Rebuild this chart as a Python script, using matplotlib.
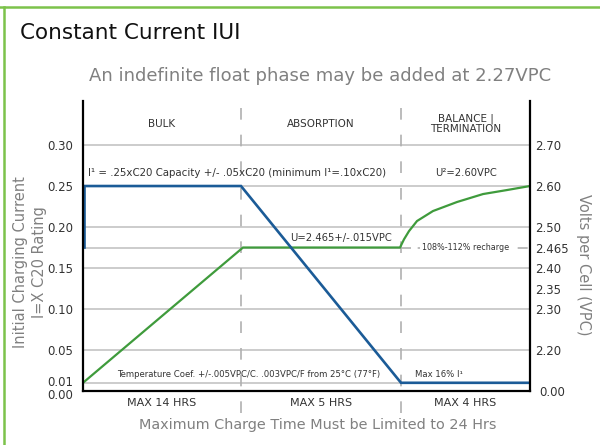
import matplotlib
matplotlib.use("Agg")
import matplotlib.pyplot as plt
from matplotlib.lines import Line2D
import matplotlib.transforms as mtransforms

# ---- data ----
phase_edges = [0, 158, 318, 447]          # chart position units (bulk | absorption | termination)
phase_names = ["BULK", "ABSORPTION", "BALANCE |\nTERMINATION"]
phase_limits = ["MAX 14 HRS", "MAX 5 HRS", "MAX 4 HRS"]

current_x = [1.5, 1.5, 158, 318, 447]
current_y = [0.175, 0.25, 0.25, 0.01, 0.01]

voltage_x = [0, 160, 317, 321, 326, 334, 350, 374, 400, 424, 447]
voltage_y = [0.01, 0.175, 0.175, 0.185, 0.195, 0.2073, 0.2195, 0.2305, 0.2402, 0.2451, 0.25]

left_ticks = [0.30, 0.25, 0.20, 0.15, 0.10, 0.05, 0.01, 0.00]
left_labels = ["0.30", "0.25", "0.20", "0.15", "0.10", "0.05", "0.01", "0.00"]
grid_levels = [0.30, 0.25, 0.20, 0.15, 0.10, 0.05, 0.01]
recharge_level = 0.175

right_ticks = [0.30, 0.25, 0.20, 0.175, 0.15, 0.125, 0.10, 0.05, 0.0]
right_labels = ["2.70", "2.60", "2.50", "2.465", "2.40", "2.35", "2.30", "2.20", "0.00"]

BLUE = "#1b5b97"
GREEN = "#3f9b3c"
GRID = "#c4c4c4"
DASH = "#b0b0b0"
TXT = "#333333"
GREY = "#808080"

fig = plt.figure(figsize=(6.0, 4.45), dpi=100)
ax = fig.add_axes([83/600, 1-391/445, 447/600, 290/445])
ax.set_xlim(phase_edges[0], phase_edges[-1])
ax.set_ylim(0, 0.3537)

# horizontal grid
for g in grid_levels:
    ax.axhline(g, color=GRID, lw=1.2, zorder=1)
ax.plot([phase_edges[0], phase_edges[2]], [recharge_level]*2, color=GRID, lw=1.2, zorder=1)
ax.plot([phase_edges[2], phase_edges[3]], [recharge_level]*2, color=DASH, lw=1.2,
        ls=(0, (6, 4)), zorder=1)

# dashed phase separators extending beyond axes
for xe in phase_edges[1:3]:
    ax.plot([xe, xe], [-0.027, 0.361], color=DASH, lw=1.2, ls=(0, (7, 9)),
            clip_on=False, zorder=1)

# lines
ax.plot(voltage_x, voltage_y, color=GREEN, lw=1.6, zorder=3, solid_joinstyle="miter")
ax.plot(current_x, current_y, color=BLUE, lw=1.9, zorder=4, solid_joinstyle="miter")

# spines
ax.spines["top"].set_visible(False)
for s in ["left", "right", "bottom"]:
    ax.spines[s].set_linewidth(1.6)
    ax.spines[s].set_color("black")
    ax.spines[s].set_zorder(5)

ax.set_xticks([])
ax.set_yticks(left_ticks)
ax.set_yticklabels(left_labels)
ax.tick_params(axis="y", length=0, pad=7, labelsize=8.5, labelcolor=TXT)
# nudge the crowded 0.01 / 0.00 labels apart
lbls = ax.get_yticklabels()
lbls[-1].set_transform(lbls[-1].get_transform() +
                       mtransforms.ScaledTranslation(0, -3/100, fig.dpi_scale_trans))
lbls[-2].set_transform(lbls[-2].get_transform() +
                       mtransforms.ScaledTranslation(0, 2/100, fig.dpi_scale_trans))

ax2 = ax.twinx()
ax2.set_ylim(ax.get_ylim())
ax2.set_yticks(right_ticks)
ax2.set_yticklabels(right_labels)
ax2.tick_params(axis="y", length=0, pad=4, labelsize=8.5, labelcolor=TXT)
r0 = ax2.get_yticklabels()[-1]
r0.set_transform(r0.get_transform() +
                 mtransforms.ScaledTranslation(4/100, 0, fig.dpi_scale_trans))
for s in ["top", "left", "bottom", "right"]:
    ax2.spines[s].set_visible(False)

# phase headers & bottom labels
centers = [(phase_edges[i] + phase_edges[i+1]) / 2 for i in range(3)]
for c, n in zip(centers, phase_names):
    ax.text(c, 0.326, n, ha="center", va="center", fontsize=7.5, color=TXT,
            linespacing=1.1)
for c, n in zip(centers, phase_limits):
    ax.text(c, -0.015, n, ha="center", va="center", fontsize=8, color=TXT, clip_on=False)

# annotations
ax.text(5, 0.266, "I¹ = .25xC20 Capacity +/- .05xC20 (minimum I¹=.10xC20)",
        ha="left", va="center", fontsize=7.4, color=TXT)
ax.text(centers[2], 0.266, "U²=2.60VPC", ha="center", va="center", fontsize=7.2, color=TXT)
ax.text(207, 0.1866, "U=2.465+/-.015VPC", ha="left", va="center", fontsize=7.2, color=TXT)
ax.text(centers[2], recharge_level, "108%-112% recharge", ha="center", va="center",
        fontsize=5.8, color=TXT, zorder=2,
        bbox=dict(facecolor="white", edgecolor="none", pad=1.5))
ax.text(34, 0.0207, "Temperature Coef. +/-.005VPC/C. .003VPC/F from 25°C (77°F)",
        ha="left", va="center", fontsize=6.1, color=TXT)
ax.text(332, 0.0207, "Max 16% I¹", ha="left", va="center", fontsize=6.1, color=TXT)

# titles & axis labels
fig.text(20/600, 1-33/445, "Constant Current IUI", ha="left", va="center",
         fontsize=15.5, color="#111111")
fig.text(320/600, 1-76/445, "An indefinite float phase may be added at 2.27VPC",
         ha="center", va="center", fontsize=13, color=GREY)
fig.text(318/600, 1-425/445, "Maximum Charge Time Must be Limited to 24 Hrs",
         ha="center", va="center", fontsize=10.4, color=GREY)
fig.text(30/600, 1-262/445, "Initial Charging Current\nI=X C20 Rating", rotation=90,
         ha="center", va="center", fontsize=10.5, color=GREY, linespacing=1.3)
fig.text(583/600, 1-265/445, "Volts per Cell (VPC)", rotation=-90,
         ha="center", va="center", fontsize=10.5, color=GREY)

# green frame (top and left)
fig.add_artist(Line2D([0, 1], [1-6.5/445]*2, color="#7cc24a", lw=1.8, transform=fig.transFigure))
fig.add_artist(Line2D([3.5/600]*2, [0, 1-6.5/445], color="#7cc24a", lw=1.8, transform=fig.transFigure))

fig.savefig("out.png", dpi=100)
